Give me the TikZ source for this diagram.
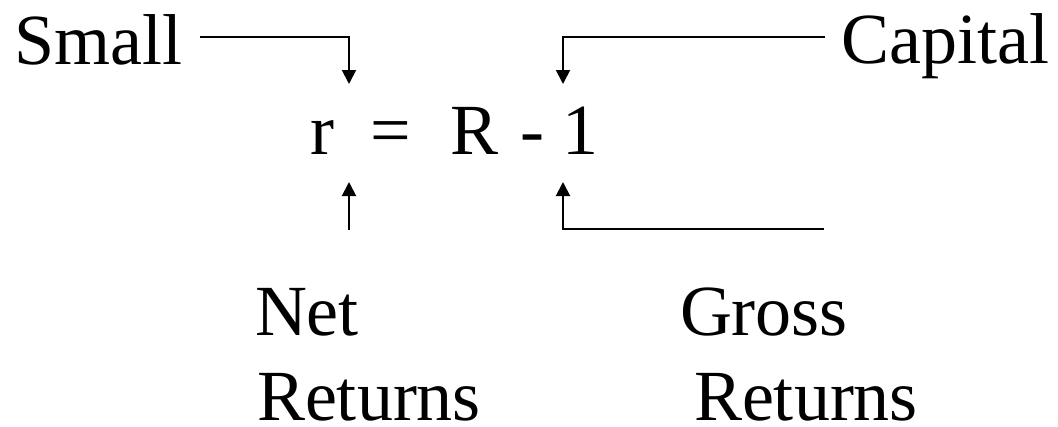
\documentclass[tikz,border=0pt]{standalone}
\usepackage{fontspec}
\setmainfont{Liberation Serif}
\usetikzlibrary{arrows.meta}
\begin{document}
\begin{tikzpicture}[x=1pt,y=-1pt,
  lbl/.style={inner sep=0pt,outer sep=0pt,anchor=base west,text depth=0pt,font=\fontsize{72}{86}\selectfont},
  conn/.style={line width=1.9pt,-{Triangle[width=14pt,length=14pt]}}]
\useasboundingbox (0,0) rectangle (1058,426);
\node[lbl] (small) at (14,64) {Small};
\node[lbl] (capital) at (841,63) {Capital};
\node[lbl] (eq) at (310.6,154) {r\hspace{36pt}=\hspace{39.6pt}R\hspace{21.4pt}-\hspace{18.8pt}1};
\node[lbl] (net) at (255,335) {Net};
\node[lbl] (netret) at (257,420) {Returns};
\node[lbl] (gross) at (680,335) {Gross};
\node[lbl] (grossret) at (694,420) {Returns};
\coordinate (a1) at (200,37);
\coordinate (a2) at (349,37);
\coordinate (a3) at (349,84);
\coordinate (b1) at (825,37);
\coordinate (b2) at (563,37);
\coordinate (b3) at (563,84);
\coordinate (c1) at (349,230);
\coordinate (c2) at (349,182);
\coordinate (d1) at (824,229);
\coordinate (d2) at (563,229);
\coordinate (d3) at (563,182);
\draw[conn] (a1) -- (a2) -- (a3);
\draw[conn] (b1) -- (b2) -- (b3);
\draw[conn] (c1) -- (c2);
\draw[conn] (d1) -- (d2) -- (d3);
\end{tikzpicture}
\end{document}
